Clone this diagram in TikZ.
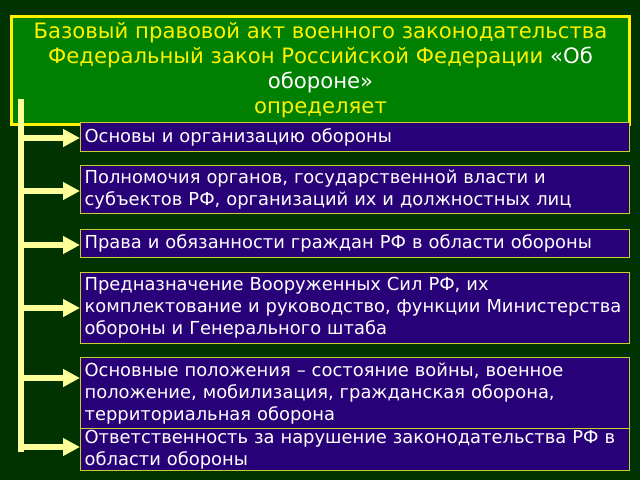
\documentclass[tikz,border=0pt]{standalone}
\usepackage{fontspec}
\setmainfont{DejaVu Sans}
\usepackage{tikz}
\usetikzlibrary{positioning,arrows.meta}
\definecolor{bggreen}{RGB}{0,51,0}
\definecolor{titlegreen}{RGB}{0,128,0}
\definecolor{boxblue}{RGB}{40,0,120}
\definecolor{boxedge}{RGB}{204,204,51}
\definecolor{paleyellow}{RGB}{255,255,153}
\tikzstyle{titlebox} = [draw=yellow, line width=3pt, fill=titlegreen, minimum width=618pt, minimum height=108pt, anchor=north west, inner sep=0pt, align=center, text=yellow, font=\fontsize{21.2}{25}\selectfont]
\tikzstyle{item}     = [draw=boxedge, line width=1.2pt, fill=boxblue, text=white, anchor=north west, minimum width=549pt, text width=541pt, inner xsep=4pt, inner ysep=0pt, align=left, font=\fontsize{17.9}{22}\selectfont]
\tikzstyle{arrow}    = [paleyellow, line width=6pt, -{Triangle[length=17pt,width=17pt]}]

\begin{document}
\begin{tikzpicture}[x=1pt,y=-1pt]
        \fill[bggreen] (0,0) rectangle (640,480);
        \useasboundingbox (0,0) rectangle (640,480);

        \node[titlebox] (title) at (10,15) {Базовый правовой акт военного законодательства\\
            Федеральный закон Российской Федерации \textcolor{white}{«Об}\\
            \textcolor{white}{обороне»}\\
            определяет};

        \coordinate (bartop) at (21,99);
        \coordinate (barbot) at (21,452);
        \draw[paleyellow, line width=6pt] (bartop) -- (barbot);

        \node[item, minimum height=29pt] (box1) at (80,122) {Основы и организацию обороны};
        \node[item, minimum height=48pt] (box2) at (80,165) {Полномочия органов, государственной власти и\\ субъектов РФ, организаций их и должностных лиц};
        \node[item, minimum height=28pt] (box3) at (80,229) {Права и обязанности граждан РФ в области обороны};
        \node[item, minimum height=71pt] (box4) at (80,272) {Предназначение Вооруженных Сил РФ, их\\ комплектование и руководство, функции Министерства\\ обороны и Генерального штаба};
        \node[item, minimum height=71pt] (box5) at (80,357) {Основные положения -- состояние войны, военное\\ положение, мобилизация, гражданская оборона,\\ территориальная оборона};
        \node[item, minimum height=42pt] (box6) at (80,428) {Ответственность за нарушение законодательства РФ в\\ области обороны};

        \coordinate (a1) at (21,138);
        \coordinate (a2) at (21,191);
        \coordinate (a3) at (21,245);
        \coordinate (a4) at (21,308);
        \coordinate (a5) at (21,378);
        \coordinate (a6) at (21,447);
        \draw[arrow] (a1) -- (a1 -| box1.west);
        \draw[arrow] (a2) -- (a2 -| box2.west);
        \draw[arrow] (a3) -- (a3 -| box3.west);
        \draw[arrow] (a4) -- (a4 -| box4.west);
        \draw[arrow] (a5) -- (a5 -| box5.west);
        \draw[arrow] (a6) -- (a6 -| box6.west);
    \end{tikzpicture}
\end{document}
